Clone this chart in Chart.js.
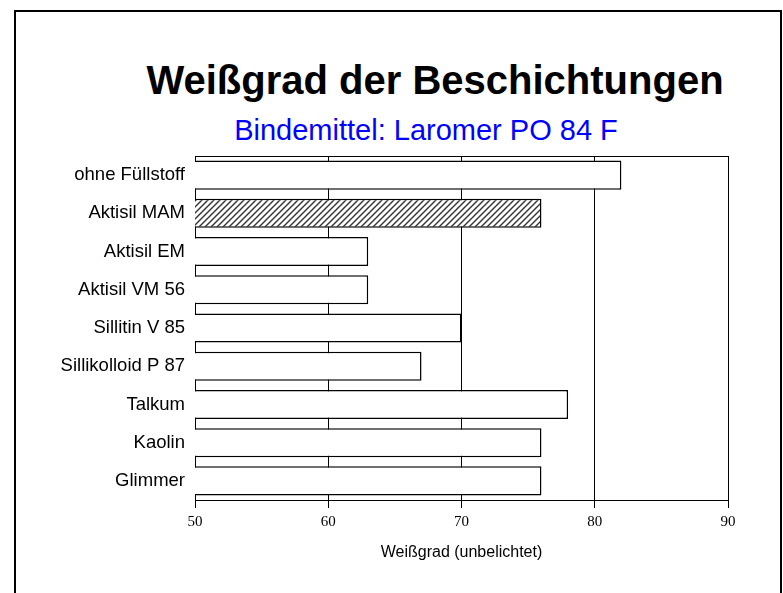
<!DOCTYPE html>
<html>
<head>
<meta charset="utf-8">
<script src="https://cdn.jsdelivr.net/npm/chart.js@4"></script>
<style>
  html, body { margin: 0; padding: 0; background: #fff; }
  #wrap { position: relative; width: 783px; height: 593px; overflow: hidden; }
  #frame { position: absolute; left: 14px; top: 10px; width: 764px; height: 600px;
           border: 2px solid #000; border-bottom: none; }
  .ttl { position: absolute; white-space: nowrap; transform: translateX(-50%);
         font-family: "Liberation Sans", Arial, sans-serif; }
  #title { left: 435px; top: 60px; font-size: 40px; line-height: 40px; font-weight: bold; color: #000; }
  #subtitle { left: 426px; top: 116px; font-size: 29px; line-height: 29px; color: #0000ff; }
  #myChart { position: absolute; left: 0; top: 0; }
</style>
</head>
<body>
<div id="wrap">
  <div id="frame"></div>
  <div id="title" class="ttl">Weißgrad der Beschichtungen</div>
  <div id="subtitle" class="ttl">Bindemittel: Laromer PO 84 F</div>
  <canvas id="myChart" width="783" height="593"></canvas>
</div>
<script>
var categories = ["ohne Füllstoff", "Aktisil MAM", "Aktisil EM", "Aktisil VM 56", "Sillitin V 85",
                  "Sillikolloid P 87", "Talkum", "Kaolin", "Glimmer"];
var values = [82, 76, 63, 63, 70, 67, 78, 76, 76];
var xTicks = [50, 60, 70, 80, 90];
var hatched = [false, true, false, false, false, false, false, false, false];

// diagonal hatch for the highlighted bar
function makeHatch() {
    var c = document.createElement('canvas');
    c.width = 6; c.height = 6;
    var p = c.getContext('2d');
    p.fillStyle = '#fff';
    p.fillRect(0, 0, 6, 6);
    p.strokeStyle = '#333';
    p.lineWidth = 1.4;
    p.beginPath();
    p.moveTo(0, 6); p.lineTo(6, 0);
    p.moveTo(-1, 1); p.lineTo(1, -1);
    p.moveTo(5, 7); p.lineTo(7, 5);
    p.stroke();
    return p.createPattern(c, 'repeat');
}

var ctx = document.getElementById('myChart').getContext('2d');
var hatch = makeHatch();

var frameBox = {
    id: 'frameBox',
    beforeDatasetsDraw: function(chart) {
        var a = chart.chartArea, g = chart.ctx;
        g.save();
        g.strokeStyle = '#000';
        g.lineWidth = 1;
        g.strokeRect(a.left + 0.5, a.top + 0.5, a.right - a.left, a.bottom - a.top);
        g.restore();
    }
};

var chart = new Chart(ctx, {
    type: 'bar',
    data: {
        labels: categories,
        datasets: [{
            data: values,
            backgroundColor: hatched.map((h) => h ? hatch : '#ffffff'),
            borderColor: '#000',
            borderWidth: 1.5,
            borderSkipped: false,
            barPercentage: 0.76,
            categoryPercentage: 1.0
        }]
    },
    options: {
        indexAxis: 'y',
        responsive: false,
        animation: false,
        layout: { padding: { left: 0, right: 55, top: 156, bottom: 0 } },
        plugins: {
            legend: { display: false },
            tooltip: { enabled: false }
        },
        scales: {
            x: {
                min: 50,
                max: 90,
                afterBuildTicks: function(scale) {
                    scale.ticks = xTicks.map((v) => ({ value: v }));
                },
                afterFit: function(scale) { scale.height = 93; },
                grid: { color: '#000', lineWidth: 1, tickLength: 8, drawTicks: true },
                border: { display: true, color: '#000', width: 1 },
                ticks: {
                    color: '#000',
                    padding: 5,
                    maxRotation: 0,
                    font: { family: '"Liberation Serif", "Times New Roman", serif', size: 15 }
                },
                title: {
                    display: true,
                    text: 'Weißgrad (unbelichtet)',
                    color: '#000',
                    font: { family: '"Liberation Sans", Arial, sans-serif', size: 16 },
                    padding: { top: 0, bottom: 31 }
                }
            },
            y: {
                afterFit: function(scale) { scale.width = 195; },
                grid: { display: false, drawTicks: false },
                border: { display: true, color: '#000', width: 1 },
                ticks: {
                    color: '#000',
                    padding: 10,
                    font: { family: '"Liberation Sans", Arial, sans-serif', size: 18.5 }
                }
            }
        }
    },
    plugins: [frameBox]
});
</script>
</body>
</html>
